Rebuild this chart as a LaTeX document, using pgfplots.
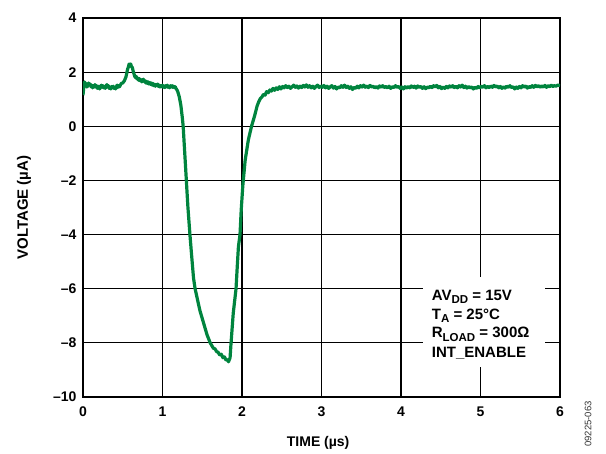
\documentclass[border=0pt]{standalone}
\usepackage{pgfplots}
\pgfplotsset{compat=1.18}
\usepackage{fontspec}
\setmainfont{Liberation Sans}
\definecolor{adigreen}{RGB}{0,132,62}
\newcommand{\sub}[1]{\raisebox{-3.2pt}{\fontsize{11.5}{12}\selectfont\bfseries #1}}
\begin{document}
\begin{tikzpicture}
\begin{axis}[
  scale only axis, width=477pt, height=379pt,
  at={(0,0)}, anchor=south west,
  xmin=0, xmax=6, ymin=-10, ymax=4,
  xtick={0,1,2,3,4,5,6}, ytick={-10,-8,-6,-4,-2,0,2,4},
  yticklabels={–10,–8,–6,–4,–2,0,2,4},
  /pgf/number format/assume math mode=true,
  tick style={draw=none},
  grid=major, major grid style={black, line width=1.1pt},
  axis line style={line width=1.8pt},
  tick label style={font=\fontsize{14}{16}\selectfont\bfseries},
  xticklabel style={yshift=-6pt},
  yticklabel style={xshift=-3pt},
  xlabel={TIME (µs)}, ylabel={VOLTAGE (µA)},
  xlabel style={font=\fontsize{14}{16}\selectfont\bfseries, at={(rel axis cs:0.493,0)}, anchor=base, yshift=-50pt},
  ylabel style={font=\fontsize{15}{17}\selectfont\bfseries, at={(rel axis cs:0,0.5)}, anchor=base, yshift=55pt},
  clip=true,
]
\addplot[adigreen, line width=3.2pt, line join=round] coordinates {
(0.00,1.15) (0.01,1.45) (0.02,1.64) (0.03,1.52) (0.04,1.58) (0.05,1.45) (0.06,1.50) (0.07,1.60)
(0.08,1.52) (0.09,1.56) (0.10,1.46) (0.11,1.52) (0.12,1.42) (0.13,1.50) (0.14,1.45) (0.15,1.54)
(0.16,1.46) (0.17,1.50) (0.18,1.40) (0.19,1.48) (0.20,1.44) (0.21,1.38) (0.22,1.46) (0.23,1.52)
(0.24,1.44) (0.25,1.50) (0.26,1.42) (0.27,1.47) (0.28,1.40) (0.29,1.48) (0.30,1.54) (0.31,1.45)
(0.32,1.50) (0.33,1.40) (0.34,1.44) (0.35,1.38) (0.36,1.47) (0.37,1.42) (0.38,1.48) (0.39,1.40)
(0.40,1.44) (0.41,1.38) (0.42,1.47) (0.43,1.52) (0.44,1.44) (0.45,1.50) (0.46,1.46) (0.47,1.52)
(0.48,1.58) (0.50,1.60) (0.52,1.68) (0.54,1.82) (0.55,1.95) (0.56,2.10) (0.57,2.18)
(0.58,2.30) (0.59,2.25) (0.60,2.30) (0.61,2.20) (0.62,2.18) (0.63,2.05) (0.64,1.95)
(0.65,1.85) (0.66,1.80) (0.67,1.84) (0.68,1.75) (0.69,1.78) (0.70,1.70) (0.71,1.76)
(0.72,1.68) (0.73,1.72) (0.74,1.64) (0.75,1.70) (0.76,1.74) (0.77,1.65) (0.78,1.68)
(0.79,1.60) (0.80,1.66) (0.81,1.58) (0.82,1.64) (0.83,1.56) (0.84,1.62) (0.85,1.55)
(0.86,1.60) (0.87,1.52) (0.88,1.58) (0.89,1.50) (0.90,1.55) (0.91,1.48) (0.92,1.54)
(0.93,1.50) (0.94,1.56) (0.95,1.47) (0.96,1.52) (0.97,1.45) (0.98,1.50) (0.99,1.46)
(1.00,1.52) (1.01,1.44) (1.02,1.49) (1.03,1.43) (1.04,1.50) (1.05,1.46) (1.06,1.52)
(1.07,1.44) (1.08,1.48) (1.09,1.42) (1.10,1.50) (1.11,1.45) (1.12,1.50) (1.13,1.44)
(1.14,1.48) (1.15,1.43) (1.16,1.46) (1.17,1.40) (1.19,1.30) (1.21,1.10) (1.23,0.80) (1.25,0.30)
(1.26,0.00) (1.28,-1.0) (1.30,-2.0) (1.32,-3.0) (1.345,-4.0) (1.37,-4.9) (1.39,-5.6)
(1.41,-6.0) (1.44,-6.4) (1.47,-6.8) (1.50,-7.1) (1.53,-7.4) (1.56,-7.7) (1.60,-8.0)
(1.62,-8.1) (1.64,-8.2) (1.66,-8.22) (1.68,-8.32) (1.70,-8.35) (1.72,-8.45) (1.74,-8.42)
(1.76,-8.55) (1.78,-8.52) (1.80,-8.64) (1.82,-8.62) (1.83,-8.70)
(1.85,-8.55) (1.86,-8.1) (1.875,-7.5) (1.89,-6.9) (1.925,-6.0) (1.94,-5.2) (1.955,-4.45)
(1.975,-4.0) (1.99,-3.1) (2.01,-2.2) (2.04,-1.25) (2.08,-0.5) (2.12,0.0) (2.16,0.4)
(2.19,0.75) (2.21,0.90) (2.23,1.02) (2.25,1.08) (2.27,1.18) (2.29,1.15) (2.31,1.28)
(2.33,1.24) (2.35,1.34) (2.37,1.30) (2.39,1.40) (2.41,1.33) (2.43,1.42) (2.45,1.36)
(2.47,1.46) (2.49,1.38) (2.51,1.47) (2.53,1.42) (2.55,1.50) (2.57,1.43) (2.59,1.48)
(2.61,1.40) (2.63,1.46) (2.65,1.52) (2.67,1.44) (2.69,1.49) (2.71,1.41) (2.73,1.48)
(2.75,1.43) (2.77,1.51) (2.79,1.45) (2.81,1.53) (2.83,1.44) (2.85,1.50) (2.87,1.42)
(2.89,1.48) (2.91,1.40) (2.93,1.47) (2.95,1.52) (2.97,1.43) (2.99,1.49) (3.01,1.44)
(3.03,1.51) (3.05,1.42) (3.07,1.48) (3.09,1.40) (3.11,1.46) (3.13,1.50) (3.15,1.41)
(3.17,1.47) (3.19,1.38) (3.21,1.45) (3.23,1.42) (3.25,1.50) (3.27,1.44) (3.29,1.52)
(3.31,1.43) (3.33,1.48) (3.35,1.40) (3.37,1.46) (3.39,1.36) (3.41,1.44) (3.43,1.40)
(3.45,1.48) (3.47,1.42) (3.49,1.50) (3.51,1.45) (3.53,1.52) (3.55,1.44) (3.57,1.49)
(3.59,1.43) (3.61,1.51) (3.63,1.45) (3.65,1.48) (3.67,1.42) (3.69,1.47) (3.71,1.41)
(3.73,1.49) (3.75,1.44) (3.77,1.50) (3.79,1.43) (3.81,1.47) (3.83,1.42) (3.85,1.48)
(3.87,1.40) (3.89,1.46) (3.91,1.43) (3.93,1.50) (3.95,1.44) (3.97,1.47) (3.99,1.40)
(4.01,1.45) (4.03,1.38) (4.05,1.46) (4.07,1.41) (4.09,1.47) (4.11,1.42) (4.13,1.49)
(4.15,1.43) (4.17,1.48) (4.19,1.41) (4.21,1.49) (4.23,1.44) (4.25,1.47) (4.27,1.40)
(4.29,1.46) (4.31,1.39) (4.33,1.45) (4.35,1.42) (4.37,1.48) (4.39,1.43) (4.41,1.50)
(4.43,1.45) (4.45,1.51) (4.47,1.42) (4.49,1.47) (4.51,1.39) (4.53,1.45) (4.55,1.40)
(4.57,1.47) (4.59,1.42) (4.61,1.49) (4.63,1.44) (4.65,1.50) (4.67,1.43) (4.69,1.48)
(4.71,1.42) (4.73,1.50) (4.75,1.45) (4.77,1.52) (4.79,1.43) (4.81,1.48) (4.83,1.41)
(4.85,1.47) (4.87,1.42) (4.89,1.45) (4.91,1.38) (4.93,1.44) (4.95,1.40) (4.97,1.47)
(4.99,1.42) (5.01,1.48) (5.03,1.44) (5.05,1.50) (5.07,1.42) (5.09,1.47) (5.11,1.43)
(5.13,1.49) (5.15,1.44) (5.17,1.51) (5.19,1.45) (5.21,1.49) (5.23,1.42) (5.25,1.47)
(5.27,1.40) (5.29,1.46) (5.31,1.41) (5.33,1.48) (5.35,1.44) (5.37,1.50) (5.39,1.43)
(5.41,1.46) (5.43,1.38) (5.45,1.45) (5.47,1.40) (5.49,1.47) (5.51,1.42) (5.53,1.50)
(5.55,1.45) (5.57,1.49) (5.59,1.41) (5.61,1.47) (5.63,1.43) (5.65,1.50) (5.67,1.44)
(5.69,1.51) (5.71,1.46) (5.73,1.50) (5.75,1.44) (5.77,1.49) (5.79,1.45) (5.81,1.51)
(5.83,1.44) (5.85,1.50) (5.87,1.46) (5.89,1.52) (5.91,1.47) (5.93,1.50) (5.95,1.48)
(5.97,1.52) (6.00,1.50)
};
\fill[white] (axis cs:4.28,-5.57) rectangle (axis cs:5.81,-8.89);
\node[anchor=base west, font=\fontsize{15}{17}\selectfont\bfseries, inner sep=0pt] at (axis cs:4.386,-6.42) {AV\sub{DD} = 15V};
\node[anchor=base west, font=\fontsize{15}{17}\selectfont\bfseries, inner sep=0pt] at (axis cs:4.386,-7.12) {T\sub{A} = 25°C};
\node[anchor=base west, font=\fontsize{15}{17}\selectfont\bfseries, inner sep=0pt] at (axis cs:4.386,-7.82) {R\sub{LOAD} = 300Ω};
\node[anchor=base west, font=\fontsize{15}{17}\selectfont\bfseries, inner sep=0pt] at (axis cs:4.386,-8.53) {INT\_ENABLE};
\end{axis}
\node[rotate=90, font=\fontsize{9.5}{11}\selectfont, text=black!80, inner sep=0pt] at (505pt,-27pt) {09225-063};
\path[use as bounding box] (-83pt,-53pt) rectangle (523pt,397pt);
\end{tikzpicture}
\end{document}
